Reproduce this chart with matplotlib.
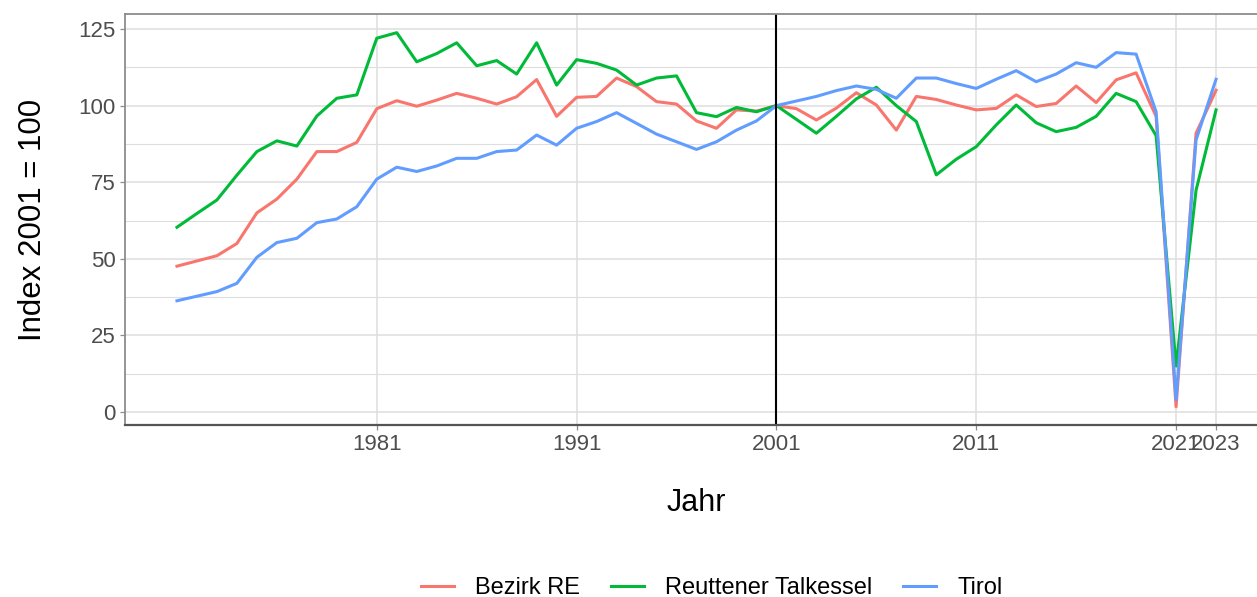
import matplotlib.pyplot as plt
from matplotlib.ticker import MultipleLocator

plt.rcParams['font.family'] = ['Liberation Sans', 'DejaVu Sans']

jahre = list(range(1971, 2024))

bezirk_re = [47.6, 49.3, 51.0, 55.0, 65.0, 69.5, 76.0, 85.0, 85.0, 88.0,
             99.0, 101.6, 99.8, 101.8, 104.0, 102.4, 100.5, 102.9, 108.5, 96.5,
             102.7, 103.0, 109.0, 106.2, 101.3, 100.5, 95.0, 92.6, 98.6, 98.2,
             100.0, 99.0, 95.3, 99.2, 104.2, 100.2, 92.0, 103.0, 102.0, 100.2,
             98.6, 99.1, 103.5, 99.7, 100.7, 106.4, 101.0, 108.4, 110.7, 96.5,
             1.7, 91.0, 105.0]

reuttener_talkessel = [60.3, 64.8, 69.2, 77.3, 85.0, 88.5, 86.8, 96.6, 102.4, 103.5,
                       122.0, 123.8, 114.3, 117.0, 120.5, 113.0, 114.7, 110.3, 120.5, 106.7,
                       115.0, 113.8, 111.6, 106.7, 109.0, 109.7, 97.7, 96.4, 99.4, 98.0,
                       100.0, 95.5, 91.0, 96.5, 102.2, 106.0, 100.0, 94.8, 77.4, 82.5,
                       86.6, 93.7, 100.2, 94.4, 91.5, 92.9, 96.5, 104.0, 101.3, 90.2,
                       15.0, 72.4, 98.6]

tirol = [36.3, 37.8, 39.3, 42.0, 50.5, 55.3, 56.7, 61.8, 63.0, 67.0,
         76.0, 79.9, 78.5, 80.3, 82.8, 82.8, 85.0, 85.5, 90.4, 87.1,
         92.6, 94.8, 97.7, 94.2, 90.7, 88.2, 85.7, 88.2, 92.0, 95.0,
         100.0, 101.5, 103.0, 104.9, 106.4, 105.3, 102.4, 109.0, 109.0, 107.2,
         105.6, 108.6, 111.4, 107.8, 110.3, 114.0, 112.5, 117.3, 116.8, 98.0,
         4.0, 88.8, 108.6]

x_ticks = [1981, 1991, 2001, 2011, 2021, 2023]
y_ticks = [0, 25, 50, 75, 100, 125]

fig = plt.figure(figsize=(12.57, 5.97), dpi=100)
ax = fig.add_axes([125 / 1257, (597 - 425) / 597, (1268 - 125) / 1257, (425 - 14) / 597])

ax.plot(jahre, bezirk_re, color='#F8766D', lw=2.2, label='Bezirk RE')
ax.plot(jahre, reuttener_talkessel, color='#00BA38', lw=2.2, label='Reuttener Talkessel')
ax.plot(jahre, tirol, color='#619CFF', lw=2.2, label='Tirol')
ax.axvline(2001, color='black', lw=1.5)

ax.set_xlim(1968.4, 2025.6)
ax.set_ylim(-4.24, 129.9)
ax.set_xticks(x_ticks)
ax.set_xticklabels([str(j) for j in x_ticks])
ax.set_yticks(y_ticks)
ax.yaxis.set_minor_locator(MultipleLocator(12.5))

ax.grid(which='major', color='#dedede', lw=1.1)
ax.grid(which='minor', axis='y', color='#dedede', lw=0.8)
ax.set_axisbelow(True)

for side in ['left', 'top', 'right']:
    ax.spines[side].set_color('#8c8c8c')
    ax.spines[side].set_linewidth(1.3)
ax.spines['bottom'].set_color('#555555')
ax.spines['bottom'].set_linewidth(1.6)

ax.tick_params(which='major', length=3.5, width=0.9, color='#8c8c8c',
               labelsize=16, labelcolor='#4d4d4d', pad=3)
ax.tick_params(which='minor', length=0)

ax.set_xlabel('Jahr', fontsize=22, labelpad=24)
ax.set_ylabel('Index 2001 = 100', fontsize=22.5, labelpad=22)

fig.legend(loc='center', bbox_to_anchor=(712 / 1257, 1 - 588 / 597), ncol=3,
           frameon=False, fontsize=17, handlelength=1.4, columnspacing=1.3,
           handletextpad=0.9)

fig.savefig('out.png', dpi=100)
